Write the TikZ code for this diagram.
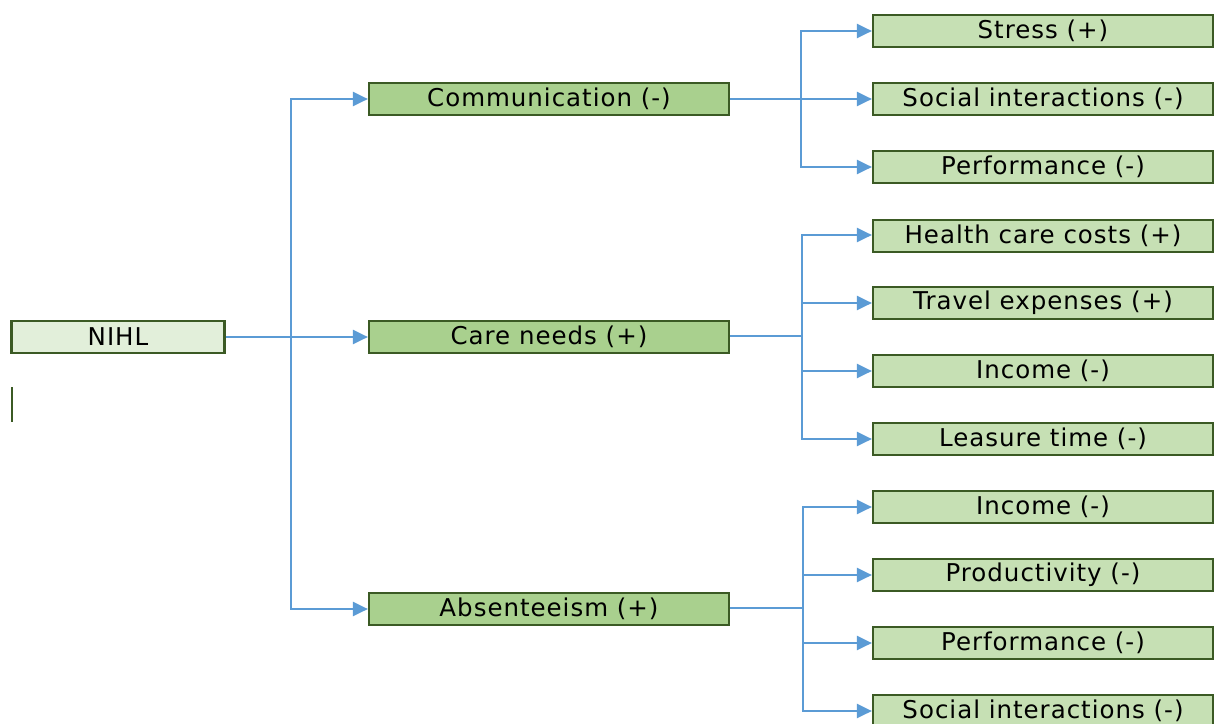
\documentclass[tikz,border=0pt]{standalone}
\usepackage{fontspec}
\setmainfont{DejaVu Sans}[LetterSpace=4]
\usetikzlibrary{arrows.meta}
\definecolor{edgegreen}{HTML}{3B5A24}
\definecolor{rootfill}{HTML}{E2EFDA}
\definecolor{midfill}{HTML}{A9D08E}
\definecolor{leaffill}{HTML}{C6E0B4}
\definecolor{linkblue}{HTML}{5B9BD5}
\begin{document}
\begin{tikzpicture}[x=1pt,y=-1pt,
  box/.style={draw=edgegreen,line width=2.2pt,minimum height=32pt,inner sep=0pt,
    font=\fontsize{24.5}{26}\selectfont},
  root/.style={box,fill=rootfill,minimum width=213pt},
  mid/.style={box,fill=midfill,minimum width=360pt},
  leaf/.style={box,fill=leaffill,minimum width=340pt},
  link/.style={draw=linkblue,line width=2.2pt},
  arr/.style={link,-{Triangle[length=15pt,width=14pt]}}]
\useasboundingbox (0,0) rectangle (1214,723);

% root and first level
\node[root] (nihl) at (118,337) {NIHL};
\node[mid] (comm) at (549,99) {Communication (-)};
\node[mid] (care) at (549,337) {Care needs (+)};
\node[mid] (abs)  at (549,609) {Absenteeism (+)};

% second level
\node[leaf] (stress) at (1043,31)  {Stress (+)};
\node[leaf] (soc1)   at (1043,99)  {Social interactions (-)};
\node[leaf] (perf1)  at (1043,167) {Performance (-)};
\node[leaf] (health) at (1043,236) {Health care costs (+)};
\node[leaf] (travel) at (1043,303) {Travel expenses (+)};
\node[leaf] (inc1)   at (1043,371) {Income (-)};
\node[leaf] (leis)   at (1043,439) {Leasure time (-)};
\node[leaf] (inc2)   at (1043,507) {Income (-)};
\node[leaf] (prod)   at (1043,575) {Productivity (-)};
\node[leaf] (perf2)  at (1043,643) {Performance (-)};
\node[leaf] (soc2)   at (1043,711) {Social interactions (-)};

% short vertical stroke under the root box
\draw[edgegreen,line width=2.2pt] (12,387) -- (12,422);

% trunk from the root
\coordinate (j0) at (291,337);
\draw[arr] (nihl.east) -- (care.west);
\draw[arr] (j0) |- (comm.west);
\draw[arr] (j0) |- (abs.west);

% communication branch
\coordinate (j1) at (801,99);
\draw[link] (comm.east) -- (j1);
\foreach \t in {stress,soc1,perf1} \draw[arr] (j1) |- (\t.west);

% care needs branch
\coordinate (j2) at (802,336);
\draw[link] (care.east |- j2) -- (j2);
\draw[arr] (j2) |- ([yshift=1pt]health.west);
\foreach \t in {travel,inc1,leis} \draw[arr] (j2) |- (\t.west);

% absenteeism branch
\coordinate (j3) at (803,608);
\draw[link] (abs.east |- j3) -- (j3);
\foreach \t in {inc2,prod,perf2,soc2} \draw[arr] (j3) |- (\t.west);
\end{tikzpicture}
\end{document}
